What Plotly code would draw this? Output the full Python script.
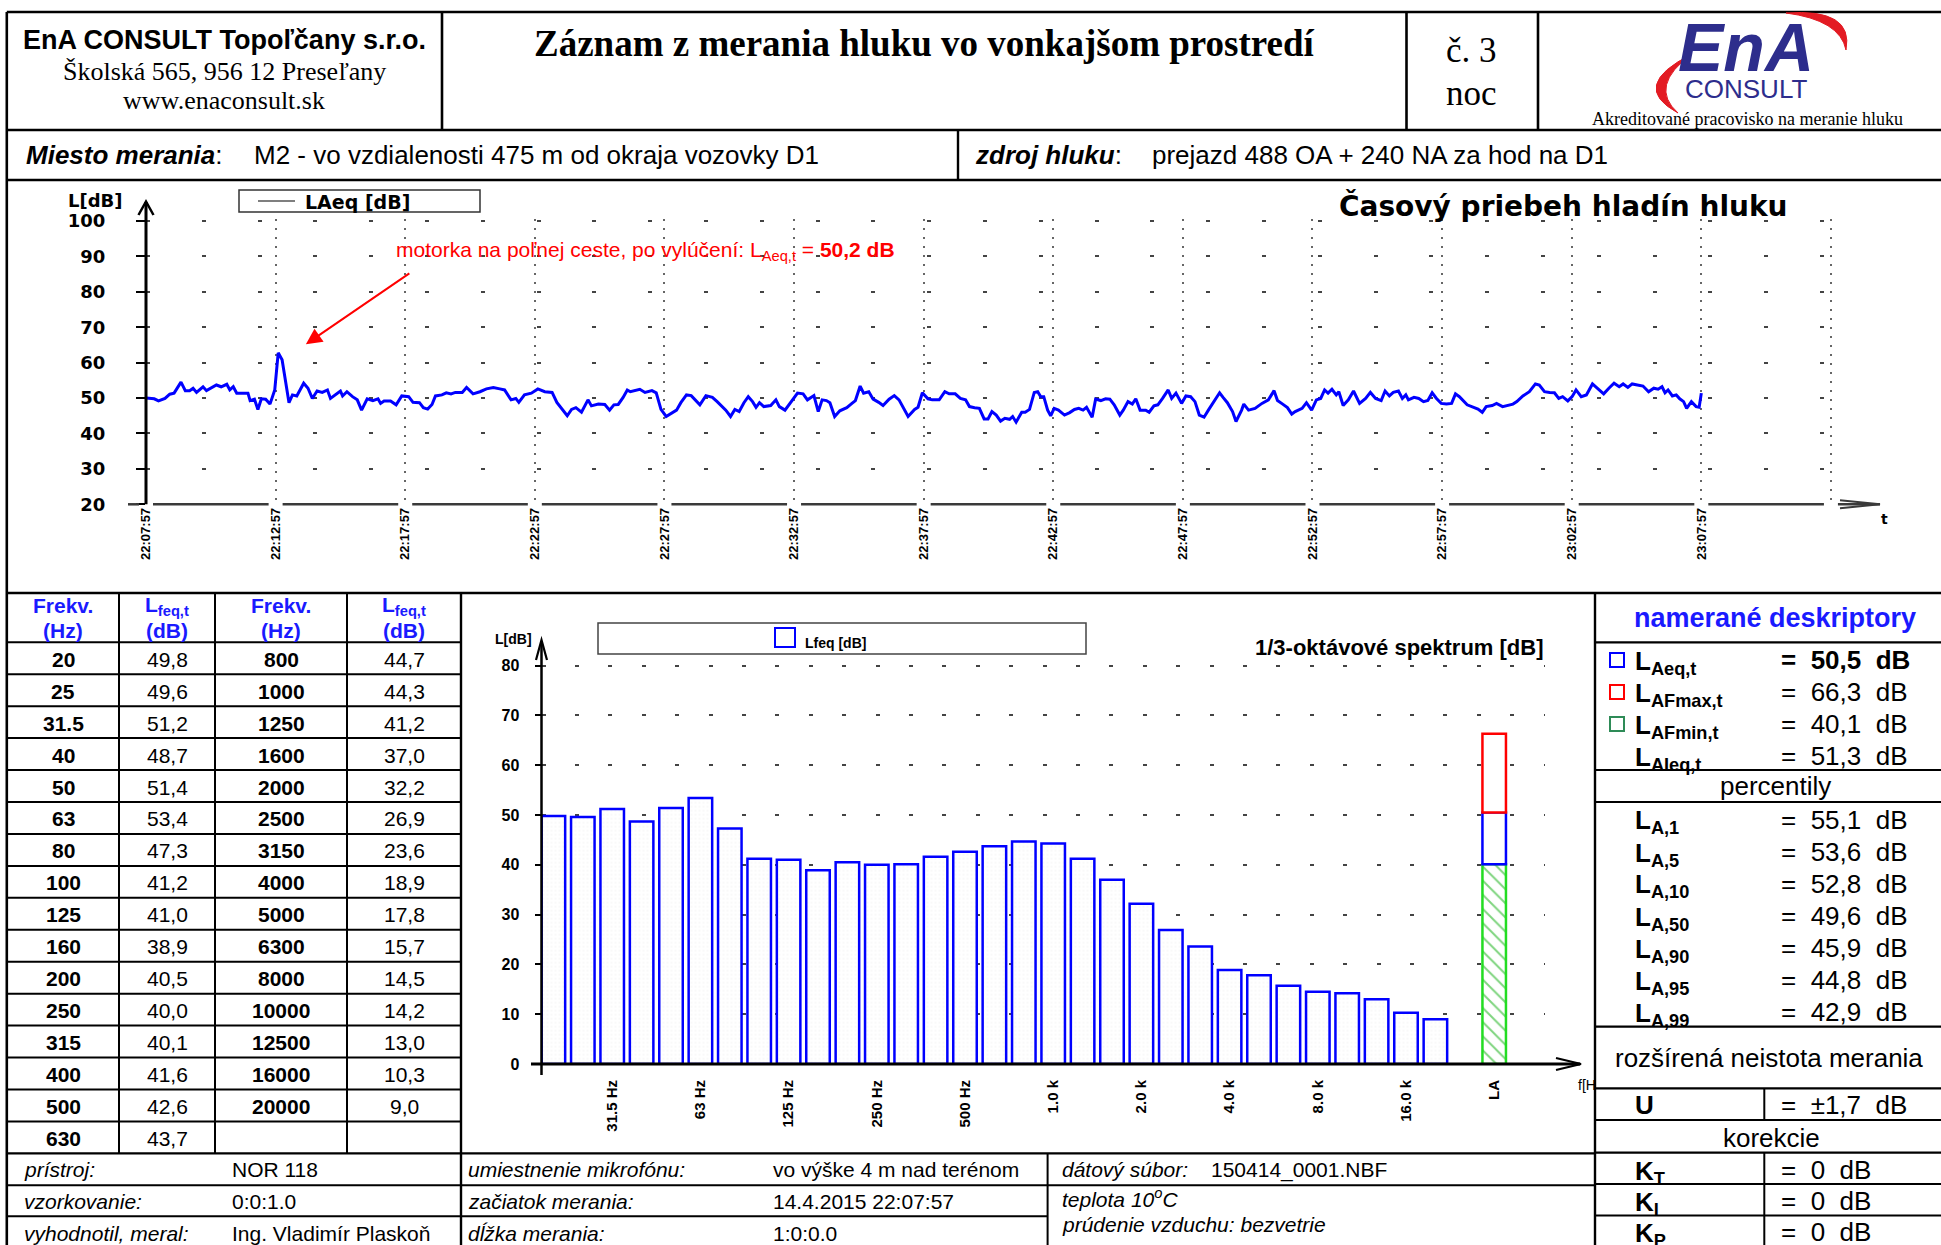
import plotly.graph_objects as go
from datetime import datetime, timedelta

# ======================= DATA =======================
MEAS_DATE = "2015-04-14"
MEAS_START = "22:07:57"
TIME_TICK_LABELS = ["22:07:57", "22:12:57", "22:17:57", "22:22:57", "22:27:57", "22:32:57",
                    "22:37:57", "22:42:57", "22:47:57", "22:52:57", "22:57:57", "23:02:57", "23:07:57"]
TIME_GRID_EXTRA = "23:12:57"
TIME_LEVEL_TICKS = [20, 30, 40, 50, 60, 70, 80, 90, 100]

T_SEC = [0, 19, 29, 44, 55, 65, 81, 91, 101, 109, 117, 132, 140, 148, 163, 174, 187, 194, 202, 210,
         225, 236, 241, 251, 259, 267, 277, 287, 298, 306, 315, 331, 339, 349, 365, 375, 385, 396, 408, 420,
         427, 439, 450, 455, 465, 478, 489, 499, 512, 525, 537, 543, 551, 566, 579, 592, 608, 618, 633, 642,
         652, 662, 670, 685, 695, 706, 716, 732, 742, 757, 773, 788, 804, 819, 830, 845, 856, 863, 876, 892,
         907, 923, 940, 951, 959, 975, 985, 995, 1008, 1023, 1031, 1047, 1062, 1073, 1083, 1093, 1104, 1114, 1121, 1132,
         1143, 1155, 1171, 1181, 1192, 1204, 1214, 1228, 1238, 1251, 1262, 1274, 1282, 1296, 1311, 1322, 1332, 1342, 1353, 1363,
         1373, 1384, 1394, 1404, 1412, 1420, 1430, 1446, 1458, 1466, 1479, 1492, 1508, 1521, 1531, 1546, 1556, 1565, 1575, 1583,
         1594, 1606, 1622, 1634, 1642, 1653, 1661, 1673, 1683, 1696, 1706, 1720, 1732, 1743, 1753, 1764, 1779, 1787, 1797, 1810,
         1820, 1836, 1849, 1859, 1873, 1885, 1897, 1906, 1918, 1929, 1940, 1949, 1958, 1968, 1978, 1988, 1999, 2006, 2014, 2027,
         2035, 2045, 2056, 2064, 2071, 2078, 2087, 2094, 2102, 2112, 2126, 2138, 2149, 2159, 2169, 2177, 2190, 2198, 2210, 2221,
         2231, 2241, 2254, 2262, 2273, 2283, 2291, 2301, 2314, 2322, 2333, 2342, 2353, 2366, 2374, 2384, 2397, 2407, 2418, 2428,
         2438, 2449, 2459, 2471, 2485, 2493, 2503, 2515, 2523, 2536, 2541, 2552, 2567, 2583, 2598, 2611, 2619, 2631, 2642, 2652,
         2660, 2676, 2686, 2698, 2709, 2719, 2728, 2736, 2745, 2755, 2761, 2771, 2783, 2795, 2809, 2823, 2834, 2846, 2859, 2868,
         2878, 2887, 2899, 2908, 2916, 2922, 2935, 2946, 2957, 2967, 2977, 2987, 2998, 3010, 3022, 3031, 3040, 3058, 3069, 3083,
         3093, 3102, 3116, 3126, 3140, 3154, 3164, 3173, 3187, 3202, 3216, 3225, 3237, 3249, 3260, 3270, 3279, 3291, 3301, 3310,
         3322, 3334, 3348, 3359, 3374, 3386, 3398, 3410, 3419, 3430, 3440, 3452, 3465, 3478, 3490, 3500, 3509, 3516, 3523, 3533,
         3542, 3550, 3559, 3566, 3577, 3588, 3595, 3600]
LAEQ_T = [50.0, 49.8, 49.2, 49.9, 51.1, 51.4, 54.5, 52.1, 52.1, 52.8, 51.6, 53.2, 52.1, 52.6, 53.7, 53.2, 53.9, 52.3, 53.2, 51.4,
          51.5, 51.4, 49.3, 49.7, 46.8, 49.8, 49.7, 48.3, 52.3, 62.8, 60.8, 48.7, 50.9, 50.6, 54.2, 52.8, 49.9, 52.0, 51.6, 52.3,
          49.9, 51.1, 52.0, 50.6, 51.8, 50.4, 49.5, 46.6, 49.8, 49.3, 49.8, 48.5, 49.2, 49.2, 48.1, 50.6, 50.4, 48.8, 48.7, 47.3,
          46.9, 48.2, 50.6, 50.9, 51.5, 51.2, 51.6, 51.6, 53.0, 51.2, 51.8, 52.6, 53.0, 52.6, 52.3, 49.5, 49.9, 48.8, 50.9, 51.4,
          52.6, 51.8, 51.6, 48.8, 47.6, 45.0, 46.8, 47.3, 46.0, 49.5, 47.8, 48.3, 48.2, 46.6, 48.1, 48.2, 50.1, 52.3, 51.8, 52.1,
          52.5, 51.6, 52.1, 51.5, 46.8, 44.8, 45.5, 46.6, 48.7, 50.9, 50.7, 49.0, 48.1, 50.7, 50.2, 49.0, 47.9, 46.6, 44.8, 46.8,
          46.2, 48.7, 50.4, 49.0, 47.4, 48.7, 47.6, 47.9, 49.5, 47.6, 46.6, 48.8, 51.4, 51.2, 49.5, 50.7, 46.2, 49.5, 49.3, 48.7,
          44.8, 46.4, 47.3, 48.5, 49.3, 53.4, 51.4, 51.8, 49.7, 48.8, 47.9, 49.7, 50.7, 49.5, 47.3, 44.8, 46.8, 47.4, 51.5, 49.8,
          49.5, 49.5, 51.8, 51.2, 51.2, 49.9, 49.5, 47.6, 47.3, 47.1, 44.1, 44.1, 46.2, 45.2, 43.5, 44.3, 44.0, 44.8, 43.2, 46.0,
          46.0, 46.8, 51.6, 51.8, 50.4, 50.4, 46.6, 45.0, 47.1, 46.6, 45.2, 45.9, 46.8, 47.1, 46.6, 47.4, 44.6, 49.7, 49.3, 49.8,
          49.7, 48.1, 45.2, 46.6, 49.0, 48.3, 49.8, 46.6, 46.6, 46.0, 47.8, 48.1, 49.9, 52.3, 49.9, 51.4, 48.5, 50.6, 50.4, 49.0,
          45.2, 44.6, 46.6, 49.0, 51.5, 50.2, 48.7, 46.2, 43.4, 46.6, 48.3, 46.6, 47.1, 48.5, 49.5, 52.1, 49.3, 48.3, 47.3, 45.5,
          46.2, 47.1, 48.7, 46.6, 49.5, 49.9, 52.3, 51.4, 52.5, 50.9, 51.8, 47.9, 49.5, 52.0, 48.5, 49.9, 51.6, 49.9, 49.3, 52.0,
          50.6, 51.6, 52.0, 49.9, 50.9, 49.5, 50.2, 49.9, 49.0, 49.3, 51.5, 49.9, 48.5, 48.3, 48.5, 51.2, 50.4, 48.1, 47.6, 46.9,
          46.0, 47.6, 47.9, 48.5, 47.6, 48.1, 48.3, 49.0, 50.6, 51.8, 54.0, 53.7, 51.8, 51.6, 51.5, 49.9, 50.4, 49.2, 50.4, 52.3,
          50.4, 50.9, 54.0, 52.8, 51.2, 52.8, 54.2, 53.2, 54.0, 53.0, 54.0, 53.7, 53.4, 51.8, 52.8, 52.5, 53.2, 51.5, 52.3, 50.6,
          50.9, 49.8, 49.0, 47.1, 49.0, 47.6, 47.4, 51.4]
NOTE_LAEQ_EXCL = 50.2
NOTE_POINT_SEC = 370      # where the arrow points (time, s)
NOTE_POINT_DB = 65.2      # where the arrow points (level, dB)

FREQ_HZ = ["20", "25", "31.5", "40", "50", "63", "80", "100", "125", "160", "200", "250", "315", "400", "500", "630",
           "800", "1000", "1250", "1600", "2000", "2500", "3150", "4000", "5000", "6300", "8000", "10000", "12500",
           "16000", "20000"]
LFEQ_DB = [49.8, 49.6, 51.2, 48.7, 51.4, 53.4, 47.3, 41.2, 41.0, 38.9, 40.5, 40.0, 40.1, 41.6, 42.6, 43.7,
           44.7, 44.3, 41.2, 37.0, 32.2, 26.9, 23.6, 18.9, 17.8, 15.7, 14.5, 14.2, 13.0, 10.3, 9.0]
SPEC_TICK_FREQS = ["31.5", "63", "125", "250", "500", "1000", "2000", "4000", "8000", "16000"]
SPEC_TICK_LABELS = ["31.5 Hz", "63 Hz", "125 Hz", "250 Hz", "500 Hz", "1.0 k", "2.0 k", "4.0 k", "8.0 k", "16.0 k"]
LA_LABEL = "LA"
SPEC_LEVEL_TICKS = [0, 10, 20, 30, 40, 50, 60, 70, 80]

DESC_NAMES = ["Aeq,t", "AFmax,t", "AFmin,t", "AIeq,t"]
DESC_VALUES = [50.5, 66.3, 40.1, 51.3]
PCT_NAMES = ["A,1", "A,5", "A,10", "A,50", "A,90", "A,95", "A,99"]
PCT_VALUES = [55.1, 53.6, 52.8, 49.6, 45.9, 44.8, 42.9]
U_VALUE = 1.7
CORR_NAMES = ["T", "I", "P"]
CORR_VALUES = [0, 0, 0]

# ======================= LAYOUT HELPERS =======================
W, H = 1941, 1245
SANS = "Liberation Sans, Arial, sans-serif"
SERIF = "Liberation Serif, Times New Roman, serif"
WIDE = "DejaVu Sans, Verdana, sans-serif"
BLUE = "#0000ff"
TBLUE = "#1a1aff"
NAVY = "#2d2d8c"

def X(p):       # pixel -> paper fraction
    return p / W

def Y(p):
    return 1 - p / H

shapes = []
annotations = []

def hline(x0, x1, y, w=2.2, color="black"):
    shapes.append(dict(type="line", xref="paper", yref="paper", x0=X(x0), x1=X(x1), y0=Y(y), y1=Y(y),
                       line=dict(color=color, width=w)))

def vline(x, y0, y1, w=2.2, color="black"):
    shapes.append(dict(type="line", xref="paper", yref="paper", x0=X(x), x1=X(x), y0=Y(y0), y1=Y(y1),
                       line=dict(color=color, width=w)))

def rect(x0, y0, x1, y1, color="black", w=1.5, fill="rgba(0,0,0,0)"):
    shapes.append(dict(type="rect", xref="paper", yref="paper", x0=X(x0), x1=X(x1), y0=Y(y1), y1=Y(y0),
                       line=dict(color=color, width=w), fillcolor=fill))

def path(cmds, color="black", w=2, fill="rgba(0,0,0,0)"):
    parts = []
    for c in cmds:
        if c[0] == "Z":
            parts.append("Z")
            continue
        parts.append(c[0] + " ".join(f"{X(a):.5f},{Y(b):.5f}" for a, b in c[1:]))
    shapes.append(dict(type="path", xref="paper", yref="paper", path=" ".join(parts),
                       line=dict(color=color, width=w), fillcolor=fill))

def txt(x, y, s, size, family=SANS, color="black", xa="center", ya="middle", angle=0, **kw):
    a = dict(xref="paper", yref="paper", x=X(x), y=Y(y), text=s, showarrow=False,
             xanchor=xa, yanchor=ya, textangle=angle,
             font=dict(family=family, size=size, color=color))
    a.update(kw)
    annotations.append(a)

def fmt(v):
    return f"{v:.1f}".replace(".", ",")

# ---- plot geometry (pixels) ----
TX0, TX1 = 146, 1840
TY_BOT, TY_TOP = 504.3, 219.3
T_SPAN_SEC = 3921
SX0, SX1 = 541.5, 1545
SY_BOT = 1064
S_PX_PER_DB = 4.98
S_YMAX = 81
SY_TOP = SY_BOT - S_YMAX * S_PX_PER_DB
S_XRANGE = [-0.405, 33.728]

start = datetime.strptime(MEAS_DATE + " " + MEAS_START, "%Y-%m-%d %H:%M:%S")
times = [start + timedelta(seconds=s) for s in T_SEC]
tick_strs = TIME_TICK_LABELS + [TIME_GRID_EXTRA]
tick_dt = [datetime.strptime(MEAS_DATE + " " + s, "%Y-%m-%d %H:%M:%S") for s in tick_strs]
tick_sec = [(t - start).total_seconds() for t in tick_dt]

def time_px(sec):
    return TX0 + sec * (TX1 - TX0) / T_SPAN_SEC

# ======================= FRAME / TABLE LINES =======================
L, R = 6.8, W
BOT = H
hline(L, R, 12, 2.6)
vline(L, 12, BOT, 2.6)
hline(L, R, 130, 2.6)
hline(L, R, 180, 2.6)
hline(L, R, 593, 2.6)
for xv in (442, 1406.5, 1538):
    vline(xv, 12, 130, 2.6)
vline(958, 130, 180, 2.4)

T_TOP, T_HEAD, ROW_H = 593, 642.3, 31.94
n_rows = (len(FREQ_HZ) + 1) // 2
T_END = T_HEAD + n_rows * ROW_H
for xv in (119, 215, 347):
    vline(xv, T_TOP, T_END, 2)
vline(461, T_TOP, BOT, 2.4)
vline(1595, T_TOP, BOT, 2.4)
for i in range(n_rows):
    hline(L, 461, T_HEAD + i * ROW_H, 2)
hline(L, 1595, T_END, 2.2)
hline(L, 1595, 1185.3, 2)
hline(L, 1047.6, 1216.3, 2)
vline(1047.6, T_END, BOT, 2)

for yv in (642.3, 770, 802, 1026.7, 1088.3, 1120, 1152.7, 1184, 1215.5):
    hline(1595, R, yv, 2.2)
vline(1764.3, 1088.3, 1120, 2)
vline(1764.3, 1152.7, BOT, 2)

# ======================= HEADER =======================
txt(224, 40, "<b>EnA CONSULT Topoľčany s.r.o.</b>", 27)
txt(224, 71, "Školská 565, 956 12 Preseľany", 26, SERIF)
txt(224, 101, "www.enaconsult.sk", 26, SERIF)
txt(924, 43, "<b>Záznam z merania hluku vo vonkajšom prostredí</b>", 37, SERIF)
txt(1471, 50, "č. 3", 35, SERIF)
txt(1471, 94, "noc", 35, SERIF)
path([("M", (1692, 54)), ("Q", (1628, 86), (1678, 113)), ("Q", (1648, 86), (1692, 54)), ("Z",)],
     color="#e31b23", w=1, fill="#e31b23")
path([("M", (1786, 13)), ("Q", (1854, 8), (1846, 50)), ("Q", (1840, 20), (1786, 13)), ("Z",)],
     color="#e31b23", w=1, fill="#e31b23")
txt(1746, 8, "<b><i>EnA</i></b>", 68, SANS, NAVY, ya="top", valign="top", height=64, borderpad=0)
txt(1746, 89, "CONSULT", 26, SANS, NAVY)
txt(1747, 119, "Akreditované pracovisko na meranie hluku", 18, SERIF)

txt(23.5, 155, "<b><i>Miesto merania</i></b>:", 26, xa="left")
txt(252, 155, "M2 - vo vzdialenosti 475 m od okraja vozovky D1", 26, xa="left")
txt(973, 155, "<b><i>zdroj hluku</i></b>:", 26, xa="left")
txt(1150, 155, "prejazd 488 OA + 240 NA za hod na D1", 26, xa="left")

# ======================= TIME CHART DECOR =======================
vline(TX0, TY_BOT, 202, 3)
path([("M", (138.5, 215)), ("L", (TX0, 201.5)), ("L", (153.5, 215))], "black", 2.5)
gap = 7
edges = [128] + [v for s in tick_sec for v in (time_px(s) - gap, time_px(s) + gap)] + [1880]
for a, b in zip(edges[0::2], edges[1::2]):
    hline(a, b, TY_BOT, 2.5, "#3a3a3a")
path([("M", (1840, 500.3)), ("L", (1880, TY_BOT)), ("L", (1840, 508.3))], "#3a3a3a", 2)
txt(66, 201, "<b>L[dB]</b>", 18, WIDE, xa="left")
txt(1884, 519, "<b>t</b>", 14, WIDE)
rect(239, 190, 480, 212, "#333333", 1.5)
hline(258, 295, 201, 1.2, "black")
txt(303, 201.5, "<b>LAeq [dB]</b>", 19, WIDE, xa="left")
txt(1563, 206, "<b>Časový priebeh hladín hluku</b>", 28, WIDE)
txt(394, 251, "motorka na poľnej ceste, po vylúčení: L<sub>Aeq,t</sub> = <b>" + fmt(NOTE_LAEQ_EXCL) + " dB</b>",
    21, SANS, "#ff0000", xa="left")
annotations.append(dict(xref="x", yref="y", x=start + timedelta(seconds=NOTE_POINT_SEC), y=NOTE_POINT_DB,
                        ax=105, ay=-72, text="", showarrow=True, arrowhead=2, arrowsize=1.6,
                        arrowwidth=2, arrowcolor="#ff0000"))

# ======================= SPECTRUM DECOR =======================
vline(SX0, 1075, 641, 2.5)
path([("M", (536, 660)), ("L", (SX0, 640)), ("L", (547, 660))], "black", 2.2)
hline(531, 1580, SY_BOT, 3)
path([("M", (1556, 1058)), ("L", (1581, SY_BOT)), ("L", (1556, 1070))], "black", 2.2)
txt(513, 639, "<b>L[dB]</b>", 14)
rect(598, 623, 1086, 654, "#444444", 1.5)
rect(775, 628, 795, 647, BLUE, 2)
txt(803, 643, "<b>Lfeq [dB]</b>", 14, xa="left")
txt(1546, 647, "<b>1/3-oktávové spektrum [dB]</b>", 22, xa="right")
txt(1576, 1085, "f[H", 14, xa="left")

# ======================= LEFT TABLE TEXT =======================
COLS = [63, 167, 281, 404]
for cx in (COLS[0], COLS[2]):
    txt(cx, 606, "<b>Frekv.</b>", 21, color=TBLUE)
    txt(cx, 631, "<b>(Hz)</b>", 21, color=TBLUE)
for cx in (COLS[1], COLS[3]):
    txt(cx, 606, "<b>L<sub>feq,t</sub></b>", 21, color=TBLUE)
    txt(cx, 631, "<b>(dB)</b>", 21, color=TBLUE)
for i, (f, v) in enumerate(zip(FREQ_HZ, LFEQ_DB)):
    col = 0 if i < n_rows else 2
    r = i if i < n_rows else i - n_rows
    yc = T_HEAD + (r + 0.5) * ROW_H + 1
    txt(COLS[col], yc, "<b>" + f + "</b>", 21)
    txt(COLS[col + 1], yc, fmt(v), 21)

for yc, lab, val in ((1169.5, "prístroj:", "NOR 118"), (1201, "vzorkovanie:", "0:0:1.0"),
                     (1233, "vyhodnotil, meral:", "Ing. Vladimír Plaskoň")):
    txt(21.7, yc, "<i>" + lab + "</i>", 21, xa="left")
    txt(230, yc, val, 21, xa="left")
for yc, lab, val in ((1169.5, "umiestnenie mikrofónu:", "vo výške 4 m nad terénom"),
                     (1201, "začiatok merania:", "14.4.2015 22:07:57"),
                     (1233, "dĺžka merania:", "1:0:0.0")):
    txt(466, yc, "<i>" + lab + "</i>", 21, xa="left")
    txt(771, yc, val, 21, xa="left")
txt(1060, 1169.5, "<i>dátový súbor:</i>", 21, xa="left")
txt(1209, 1169.5, "150414_0001.NBF", 21, xa="left")
txt(1060, 1198, "<i>teplota 10<sup>o</sup>C</i>", 21, xa="left")
txt(1060, 1224, "<i>prúdenie vzduchu: bezvetrie</i>", 21, xa="left")

# ======================= RIGHT PANEL =======================
RC = 1771
txt(RC + 4, 618, "<b>namerané deskriptory</b>", 27, color=TBLUE)
sq_colors = [BLUE, "#ff0000", "#2e8b57", None]
for i, (nm, v) in enumerate(zip(DESC_NAMES, DESC_VALUES)):
    yc = 660 + 32 * i
    if sq_colors[i]:
        rect(1610, yc - 7, 1624, yc + 7, sq_colors[i], 2)
    txt(1633, yc + 2, "<b>L<sub>" + nm + "</sub></b>", 26, xa="left")
    val = "=\u00a0\u00a0" + fmt(v) + "\u00a0\u00a0dB"
    txt(1779, yc, "<b>" + val + "</b>" if i == 0 else val, 26, xa="left")
txt(RC + 4, 786, "percentily", 26)
for i, (nm, v) in enumerate(zip(PCT_NAMES, PCT_VALUES)):
    yc = 820 + 32 * i
    txt(1633, yc + 2, "<b>L<sub>" + nm + "</sub></b>", 26, xa="left")
    txt(1779, yc, "=\u00a0\u00a0" + fmt(v) + "\u00a0\u00a0dB", 26, xa="left")
txt(RC - 2, 1058, "rozšírená neistota merania", 26)
txt(1633, 1105, "<b>U</b>", 26, xa="left")
txt(1779, 1105, "=\u00a0\u00a0±" + fmt(U_VALUE) + "\u00a0\u00a0dB", 26, xa="left")
txt(RC, 1138, "korekcie", 26)
for i, (nm, v) in enumerate(zip(CORR_NAMES, CORR_VALUES)):
    yc = 1170 + 31 * i
    txt(1633, yc + 2, "<b>K<sub>" + nm + "</sub></b>", 26, xa="left")
    txt(1779, yc, "=\u00a0\u00a0" + str(v) + "\u00a0\u00a0dB", 26, xa="left")

# ======================= TRACES =======================
fig = go.Figure()
fig.add_trace(go.Scatter(x=times, y=LAEQ_T, mode="lines", line=dict(color=BLUE, width=3),
                         xaxis="x", yaxis="y", name="LAeq [dB]"))

xpos = list(range(len(LFEQ_DB)))
fig.add_trace(go.Bar(x=xpos, y=LFEQ_DB, width=0.8, xaxis="x2", yaxis="y2", name="Lfeq [dB]",
                     marker=dict(color="white", line=dict(color=BLUE, width=2.5),
                                 pattern=dict(shape=".", fgcolor="#e2e2e2", bgcolor="white",
                                              size=4, solidity=0.12))))
la_x = len(LFEQ_DB) + 1
la_eq, la_max, la_min = DESC_VALUES[0], DESC_VALUES[1], DESC_VALUES[2]
fig.add_trace(go.Bar(x=[la_x], y=[la_min], base=[0], width=0.8, xaxis="x2", yaxis="y2",
                     marker=dict(color="white", line=dict(color="#22dd22", width=2.5),
                                 pattern=dict(shape="\\", fgcolor="#00aa00", bgcolor="white",
                                              size=10, solidity=0.2))))
fig.add_trace(go.Bar(x=[la_x], y=[la_eq - la_min], base=[la_min], width=0.8, xaxis="x2", yaxis="y2",
                     marker=dict(color="white", line=dict(color=BLUE, width=2.5))))
fig.add_trace(go.Bar(x=[la_x], y=[la_max - la_eq], base=[la_eq], width=0.8, xaxis="x2", yaxis="y2",
                     marker=dict(color="white", line=dict(color="#ff0000", width=2.5))))

spec_tickvals = [FREQ_HZ.index(f) for f in SPEC_TICK_FREQS] + [la_x]
spec_ticktext = SPEC_TICK_LABELS + [LA_LABEL]

fig.update_layout(
    width=W, height=H, margin=dict(l=0, r=0, t=0, b=0), autosize=False,
    paper_bgcolor="white", plot_bgcolor="rgba(0,0,0,0)", showlegend=False, barmode="overlay",
    font=dict(family=SANS, color="black"),
    xaxis=dict(domain=[X(TX0), X(TX1)], type="date",
               range=[start, start + timedelta(seconds=T_SPAN_SEC)],
               tickvals=tick_dt, ticktext=TIME_TICK_LABELS + [""], tickangle=-90,
               tickfont=dict(family=SANS, size=13, color="black", weight="bold"),
               showgrid=True, gridcolor="#666666", griddash="2px,7px", gridwidth=1.5,
               showline=False, zeroline=False, ticks="", anchor="y", automargin=False),
    yaxis=dict(domain=[Y(TY_BOT), Y(TY_TOP)], range=[20, 100.5], tickvals=TIME_LEVEL_TICKS,
               tickfont=dict(family=WIDE, size=18, color="black", weight="bold"),
               showgrid=True, gridcolor="#444444", griddash="4px,51.8px", gridwidth=1.5,
               ticks="outside", ticklen=9, tickwidth=2, tickcolor="black", ticklabelstandoff=27,
               showline=False, zeroline=False, anchor="x", automargin=False),
    xaxis2=dict(domain=[X(SX0), X(SX1)], range=S_XRANGE, tickvals=spec_tickvals, ticktext=spec_ticktext,
                tickangle=-90, tickfont=dict(family=SANS, size=15, color="black", weight="bold"),
                showgrid=False, showline=False, zeroline=False, ticks="", ticklabelstandoff=12,
                anchor="y2", automargin=False),
    yaxis2=dict(domain=[Y(SY_BOT), Y(SY_TOP)], range=[0, S_YMAX], tickvals=SPEC_LEVEL_TICKS,
                tickfont=dict(family=SANS, size=16, color="black", weight="bold"),
                showgrid=True, gridcolor="#444444", griddash="4px,29.4px", gridwidth=1.5,
                ticks="outside", ticklen=6, tickwidth=1.5, tickcolor="black", ticklabelstandoff=12,
                showline=False, zeroline=False, anchor="x2", automargin=False),
    shapes=shapes, annotations=annotations,
)

fig.write_html("out.html", config=dict(displayModeBar=False),
               post_script="document.documentElement.style.margin='0';document.body.style.margin='0';"
                           "document.documentElement.style.overflow='hidden';document.body.style.overflow='hidden';")
